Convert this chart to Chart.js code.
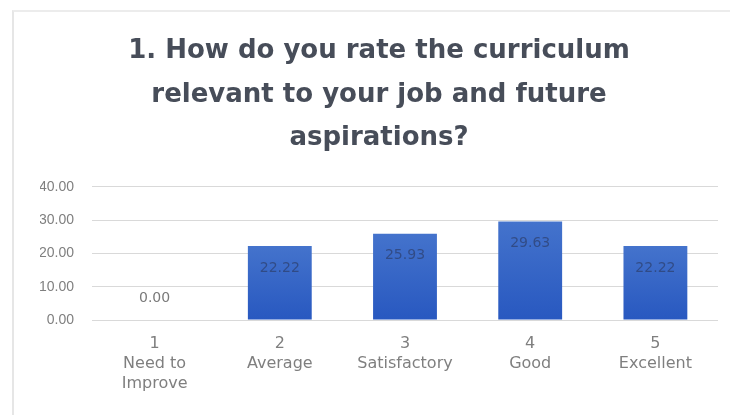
<!DOCTYPE html>
<html>
<head>
<meta charset="utf-8">
<script src="https://cdn.jsdelivr.net/npm/chart.js@4/dist/chart.umd.min.js"></script>
<style>
  html, body { margin: 0; padding: 0; background: #ffffff; }
  body { width: 730px; height: 415px; position: relative; overflow: hidden; }
  #frame { position: absolute; left: 12px; top: 10px; width: 730px; height: 420px;
           border-left: 2px solid #e6e6e6; border-top: 2px solid #ececec; box-sizing: border-box; }
  #wrap { position: absolute; left: 40px; top: 10px; width: 690px; height: 405px; }
</style>
</head>
<body>
<div id="frame"></div>
<div id="wrap"><canvas id="c" width="690" height="405"></canvas></div>
<script>
const titleLines = ['1. How do you rate the curriculum', 'relevant to your job and future', 'aspirations?'];
const categories = [['1', 'Need to', 'Improve'], ['2', 'Average'], ['3', 'Satisfactory'], ['4', 'Good'], ['5', 'Excellent']];
const values = [0.00, 22.22, 25.93, 29.63, 22.22];
const yTicks = [0, 10, 20, 30, 40];

const valueLabels = {
  id: 'valueLabels',
  afterDatasetsDraw(chart) {
    const ctx = chart.ctx;
    const meta = chart.getDatasetMeta(0);
    ctx.save();
    ctx.font = '14px "DejaVu Sans"';
    ctx.textAlign = 'center';
    ctx.textBaseline = 'middle';
    meta.data.forEach((bar, i) => {
      const v = values[i];
      const txt = v.toFixed(2);
      if (v === 0) {
        ctx.fillStyle = '#7a7a7a';
        ctx.fillText(txt, bar.x, bar.base - 22);
      } else {
        ctx.fillStyle = 'rgba(40,50,80,0.55)';
        ctx.fillText(txt, bar.x, bar.y + 22);
      }
    });
    ctx.restore();
  }
};

new Chart(document.getElementById('c'), {
  type: 'bar',
  data: {
    labels: categories,
    datasets: [{
      data: values,
      backgroundColor: (c) => {
        const chart = c.chart;
        const area = chart.chartArea;
        if (!area) return '#3566c6';
        const y = chart.scales.y;
        const top = y.getPixelForValue(c.raw || 0);
        const bottom = y.getPixelForValue(0);
        if (!(bottom > top)) return '#3566c6';
        const g = chart.ctx.createLinearGradient(0, top, 0, bottom);
        g.addColorStop(0, '#4473cc');
        g.addColorStop(1, '#2858c0');
        return g;
      },
      borderWidth: 0,
      barPercentage: 1,
      categoryPercentage: 0.51
    }]
  },
  options: {
    responsive: false,
    animation: false,
    devicePixelRatio: 1,
    layout: { padding: { left: 0, right: 12, top: 0, bottom: 0 } },
    plugins: {
      legend: { display: false },
      tooltip: { enabled: false },
      title: {
        display: true,
        text: titleLines,
        color: '#474d59',
        font: { family: 'DejaVu Sans', weight: 'bold', size: 26, lineHeight: 1.665 },
        padding: { top: 20, bottom: 27 }
      }
    },
    scales: {
      x: {
        afterFit: (s) => { s.height = 95; },
        grid: { display: false, drawTicks: false },
        border: { display: false },
        ticks: {
          color: '#7f7f7f',
          font: { family: 'DejaVu Sans', size: 16, lineHeight: 1.25 },
          padding: 14,
          maxRotation: 0,
          autoSkip: false
        }
      },
      y: {
        min: 0,
        max: 40,
        afterFit: (s) => { s.width = 52; },
        afterBuildTicks: (s) => { s.ticks = yTicks.map(v => ({ value: v })); },
        grid: { color: '#d9d9d9', lineWidth: 1, drawTicks: false },
        border: { display: false },
        ticks: {
          color: '#7f7f7f',
          font: { family: 'Liberation Sans', size: 14 },
          padding: 18,
          callback: (v) => Number(v).toFixed(2)
        }
      }
    }
  },
  plugins: [valueLabels]
});
</script>
</body>
</html>
